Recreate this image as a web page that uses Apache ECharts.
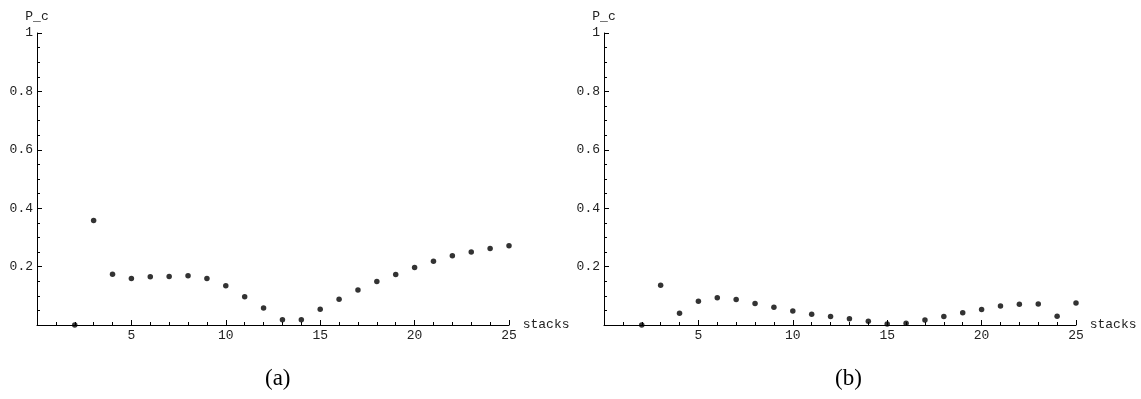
<!DOCTYPE html>
<html>
<head>
<meta charset="utf-8">
<script src="https://cdn.jsdelivr.net/npm/echarts@6/dist/echarts.min.js"></script>
<style>
html,body{margin:0;padding:0;background:#fff;}
#chart{width:1141px;height:399px;}
</style>
</head>
<body>
<div id="chart"></div>
<script>
// stacks (x values)
const stacks = [2,3,4,5,6,7,8,9,10,11,12,13,14,15,16,17,18,19,20,21,22,23,24,25];
// P_c values for panel (a)
const pcA = [0.0,0.358,0.174,0.159,0.165,0.166,0.169,0.159,0.134,0.097,0.058,0.018,0.018,0.054,0.088,0.120,0.149,0.173,0.197,0.218,0.237,0.250,0.262,0.271];
// P_c values for panel (b)
const pcB = [0.0,0.136,0.040,0.081,0.093,0.087,0.074,0.061,0.048,0.037,0.029,0.021,0.013,0.003,0.006,0.017,0.029,0.042,0.053,0.065,0.071,0.072,0.030,0.075];
const xTicks = [5,10,15,20,25];
const yTicks = [0.2,0.4,0.6,0.8,1];
const panelLabels = ['(a)','(b)'];

const mono = 'Liberation Mono';
const axisColor = '#000';

function xAxis(gi){
  return {
    type:'value', gridIndex:gi, min:0, max:25, interval:5,
    name:'stacks', nameLocation:'end', nameGap:11,
    nameTextStyle:{fontFamily:mono,fontSize:13,color:'#222',verticalAlign:'middle'},
    axisLine:{show:true,lineStyle:{color:axisColor,width:1}},
    axisTick:{show:true,inside:true,length:5,lineStyle:{color:axisColor}},
    minorTick:{show:true,splitNumber:5,length:3,lineStyle:{color:axisColor}},
    axisLabel:{fontFamily:mono,fontSize:13,color:'#222',margin:4,
      formatter:v=> xTicks.indexOf(v)>=0 ? String(v) : ''},
    splitLine:{show:false}
  };
}
function yAxis(gi){
  return {
    type:'value', gridIndex:gi, min:0, max:1, interval:0.2,
    name:'P_c', nameLocation:'end', nameGap:10,
    nameTextStyle:{fontFamily:mono,fontSize:13,color:'#222',align:'center'},
    axisLine:{show:true,lineStyle:{color:axisColor,width:1}},
    axisTick:{show:true,inside:true,length:5,lineStyle:{color:axisColor}},
    minorTick:{show:true,splitNumber:4,length:3,lineStyle:{color:axisColor}},
    axisLabel:{fontFamily:mono,fontSize:13,color:'#222',margin:4,
      formatter:v=>{const r=parseFloat(v.toFixed(1)); return yTicks.indexOf(r)>=0 ? String(r) : '';}},
    splitLine:{show:false}
  };
}

const chart = echarts.init(document.getElementById('chart'),null,{renderer:'canvas'});
chart.setOption({
  backgroundColor:'#fff',
  animation:false,
  grid:[
    {left:37, top:33, width:472, height:292},
    {left:604, top:33, width:472, height:292}
  ],
  xAxis:[xAxis(0), xAxis(1)],
  yAxis:[yAxis(0), yAxis(1)],
  series:[
    {type:'scatter', xAxisIndex:0, yAxisIndex:0, symbolSize:5.5,
     itemStyle:{color:'#000'}, data: stacks.map((s,i)=>[s,pcA[i]])},
    {type:'scatter', xAxisIndex:1, yAxisIndex:1, symbolSize:5.5,
     itemStyle:{color:'#000'}, data: stacks.map((s,i)=>[s,pcB[i]])}
  ],
  graphic:[
    {type:'text', left:265, top:367, style:{text:panelLabels[0], font:'23px "Liberation Serif"', fill:'#000'}},
    {type:'text', left:835, top:367, style:{text:panelLabels[1], font:'23px "Liberation Serif"', fill:'#000'}}
  ]
});
</script>
</body>
</html>
